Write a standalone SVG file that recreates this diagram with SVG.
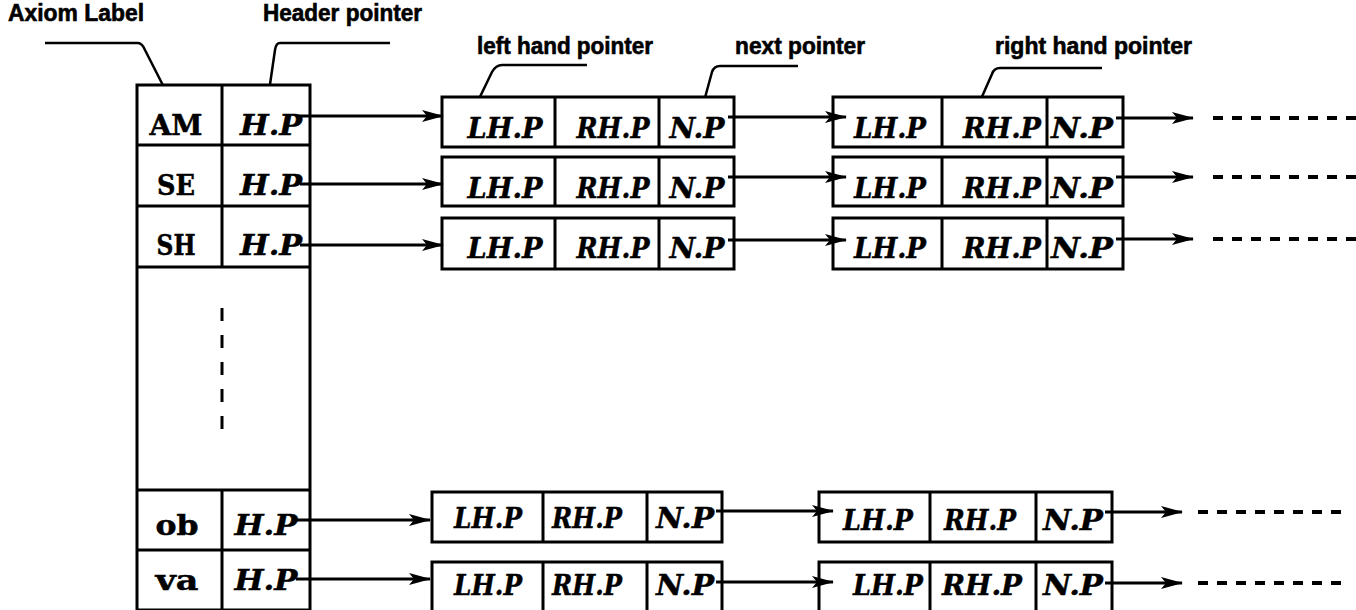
<svg xmlns="http://www.w3.org/2000/svg" width="1356" height="610" viewBox="0 0 1356 610">
<defs>
<style>
.bx{fill:#fff;stroke:#000;stroke-width:3}
.ln{fill:none;stroke:#000;stroke-width:3}
.ld{fill:none;stroke:#000;stroke-width:2.5}
.cn{fill:none;stroke:#000;stroke-width:3}
.ds{fill:none;stroke:#000;stroke-width:4;stroke-dasharray:10 9}
.lab{font-family:"Liberation Sans",Arial,sans-serif;font-weight:bold;font-size:23px;fill:#000;stroke:#000;stroke-width:0.6}
.key{font-family:"DejaVu Serif","Liberation Serif",serif;font-weight:bold;font-size:28px;fill:#000;text-anchor:middle;stroke:#000;stroke-width:0.5}
.ptr{font-family:"DejaVu Serif","Liberation Serif",serif;font-weight:bold;font-style:italic;font-size:27px;fill:#000;text-anchor:middle;stroke:#000;stroke-width:0.4}
</style>
<marker id="ah" markerUnits="userSpaceOnUse" markerWidth="22" markerHeight="14" refX="21" refY="7" orient="auto">
<path d="M0,1 L22,7 L0,13 L5,7 Z" fill="#000"/>
</marker>
</defs>
<rect width="1356" height="610" fill="#fff"/>

<g id="labels">
<text class="lab" x="8" y="21" textLength="136" lengthAdjust="spacingAndGlyphs">Axiom Label</text>
<text class="lab" x="263" y="21" textLength="159" lengthAdjust="spacingAndGlyphs">Header pointer</text>
<text class="lab" x="477" y="54" textLength="176" lengthAdjust="spacingAndGlyphs">left hand pointer</text>
<text class="lab" x="735" y="54" textLength="130" lengthAdjust="spacingAndGlyphs">next pointer</text>
<text class="lab" x="995" y="54" textLength="197" lengthAdjust="spacingAndGlyphs">right hand pointer</text>
<path class="ld" d="M45,43 L138,43 Q142,43 145,50 L172,103"/>
<path class="ld" d="M390,43 L280,43 Q276,43 275,50 L267,105"/>
<path class="ld" d="M587,65 L502,65 Q496,65 492,72 L477,103"/>
<path class="ld" d="M798,66 L720,66 Q714,66 712,72 L703,105"/>
<path class="ld" d="M1102,68 L1000,68 Q994,68 992,74 L977,108"/>
</g>

<g id="table">
<rect class="bx" x="137" y="85" width="173" height="525"/>
<path class="ln" d="M222,85 V267 M222,490 V610 M137,145 H310 M137,206 H310 M137,267 H310 M137,490 H310 M137,550 H310"/>
<path class="ln" d="M222,308 V430" stroke-dasharray="13 14"/>
<text class="key" x="176" y="135" textLength="53" lengthAdjust="spacingAndGlyphs">AM</text>
<text class="key" x="176" y="195" textLength="38" lengthAdjust="spacingAndGlyphs">SE</text>
<text class="key" x="176" y="255" textLength="39" lengthAdjust="spacingAndGlyphs">SH</text>
<text class="key" x="177" y="535" textLength="43" lengthAdjust="spacingAndGlyphs">ob</text>
<text class="key" x="177" y="590" textLength="43" lengthAdjust="spacingAndGlyphs">va</text>
<text class="ptr" x="271" y="135" textLength="62" lengthAdjust="spacingAndGlyphs">H.P</text>
<text class="ptr" x="271" y="195" textLength="62" lengthAdjust="spacingAndGlyphs">H.P</text>
<text class="ptr" x="271" y="255" textLength="62" lengthAdjust="spacingAndGlyphs">H.P</text>
<text class="ptr" x="266" y="535" textLength="63" lengthAdjust="spacingAndGlyphs">H.P</text>
<text class="ptr" x="266" y="590" textLength="63" lengthAdjust="spacingAndGlyphs">H.P</text>
</g>

<g id="node-r1a">
<rect class="bx" x="442" y="97" width="292" height="50"/>
<path class="ln" d="M555,97 V147 M659,97 V147"/>
<text class="ptr" x="505" y="138" textLength="75" lengthAdjust="spacingAndGlyphs">LH.P</text>
<text class="ptr" x="613" y="138" textLength="73" lengthAdjust="spacingAndGlyphs">RH.P</text>
<text class="ptr" x="697" y="138" textLength="55" lengthAdjust="spacingAndGlyphs">N.P</text>
</g>
<g id="node-r2a">
<rect class="bx" x="442" y="157" width="292" height="49"/>
<path class="ln" d="M555,157 V206 M659,157 V206"/>
<text class="ptr" x="505" y="198" textLength="75" lengthAdjust="spacingAndGlyphs">LH.P</text>
<text class="ptr" x="613" y="198" textLength="73" lengthAdjust="spacingAndGlyphs">RH.P</text>
<text class="ptr" x="697" y="198" textLength="55" lengthAdjust="spacingAndGlyphs">N.P</text>
</g>
<g id="node-r3a">
<rect class="bx" x="442" y="218" width="292" height="51"/>
<path class="ln" d="M555,218 V269 M659,218 V269"/>
<text class="ptr" x="505" y="258" textLength="75" lengthAdjust="spacingAndGlyphs">LH.P</text>
<text class="ptr" x="613" y="258" textLength="73" lengthAdjust="spacingAndGlyphs">RH.P</text>
<text class="ptr" x="697" y="258" textLength="55" lengthAdjust="spacingAndGlyphs">N.P</text>
</g>

<g id="node-r1b">
<rect class="bx" x="833" y="97" width="290" height="50"/>
<path class="ln" d="M942,97 V147 M1047,97 V147"/>
<text class="ptr" x="890" y="138" textLength="72" lengthAdjust="spacingAndGlyphs">LH.P</text>
<text class="ptr" x="1002" y="138" textLength="78" lengthAdjust="spacingAndGlyphs">RH.P</text>
<text class="ptr" x="1082" y="138" textLength="62" lengthAdjust="spacingAndGlyphs">N.P</text>
</g>
<g id="node-r2b">
<rect class="bx" x="833" y="157" width="290" height="49"/>
<path class="ln" d="M942,157 V206 M1047,157 V206"/>
<text class="ptr" x="890" y="198" textLength="72" lengthAdjust="spacingAndGlyphs">LH.P</text>
<text class="ptr" x="1002" y="198" textLength="78" lengthAdjust="spacingAndGlyphs">RH.P</text>
<text class="ptr" x="1082" y="198" textLength="62" lengthAdjust="spacingAndGlyphs">N.P</text>
</g>
<g id="node-r3b">
<rect class="bx" x="833" y="218" width="290" height="51"/>
<path class="ln" d="M942,218 V269 M1047,218 V269"/>
<text class="ptr" x="890" y="258" textLength="72" lengthAdjust="spacingAndGlyphs">LH.P</text>
<text class="ptr" x="1002" y="258" textLength="78" lengthAdjust="spacingAndGlyphs">RH.P</text>
<text class="ptr" x="1082" y="258" textLength="62" lengthAdjust="spacingAndGlyphs">N.P</text>
</g>

<g id="node-r4a">
<rect class="bx" x="432" y="492" width="290" height="50"/>
<path class="ln" d="M543,492 V542 M647,492 V542"/>
<text class="ptr" x="488" y="528" textLength="68" lengthAdjust="spacingAndGlyphs">LH.P</text>
<text class="ptr" x="587" y="528" textLength="70" lengthAdjust="spacingAndGlyphs">RH.P</text>
<text class="ptr" x="685" y="528" textLength="58" lengthAdjust="spacingAndGlyphs">N.P</text>
</g>
<g id="node-r5a">
<rect class="bx" x="432" y="562" width="290" height="52"/>
<path class="ln" d="M543,562 V614 M647,562 V614"/>
<text class="ptr" x="488" y="595" textLength="68" lengthAdjust="spacingAndGlyphs">LH.P</text>
<text class="ptr" x="587" y="595" textLength="70" lengthAdjust="spacingAndGlyphs">RH.P</text>
<text class="ptr" x="685" y="595" textLength="58" lengthAdjust="spacingAndGlyphs">N.P</text>
</g>
<g id="node-r4b">
<rect class="bx" x="819" y="492" width="293" height="50"/>
<path class="ln" d="M930,492 V542 M1036,492 V542"/>
<text class="ptr" x="878" y="530" textLength="70" lengthAdjust="spacingAndGlyphs">LH.P</text>
<text class="ptr" x="980" y="530" textLength="72" lengthAdjust="spacingAndGlyphs">RH.P</text>
<text class="ptr" x="1073" y="530" textLength="60" lengthAdjust="spacingAndGlyphs">N.P</text>
</g>
<g id="node-r5b">
<rect class="bx" x="819" y="562" width="293" height="52"/>
<path class="ln" d="M930,562 V614 M1036,562 V614"/>
<text class="ptr" x="888" y="595" textLength="70" lengthAdjust="spacingAndGlyphs">LH.P</text>
<text class="ptr" x="982" y="595" textLength="80" lengthAdjust="spacingAndGlyphs">RH.P</text>
<text class="ptr" x="1073" y="595" textLength="60" lengthAdjust="spacingAndGlyphs">N.P</text>
</g>

<g id="connectors">
<path class="cn" marker-end="url(#ah)" d="M300,116 H443"/>
<path class="cn" marker-end="url(#ah)" d="M300,184 H443"/>
<path class="cn" marker-end="url(#ah)" d="M300,245 H443"/>
<path class="cn" marker-end="url(#ah)" d="M296,520 H430"/>
<path class="cn" marker-end="url(#ah)" d="M296,579 H430"/>
<path class="cn" marker-end="url(#ah)" d="M728,117 H846"/>
<path class="cn" marker-end="url(#ah)" d="M728,177 H846"/>
<path class="cn" marker-end="url(#ah)" d="M728,240 H846"/>
<path class="cn" marker-end="url(#ah)" d="M716,511 H833"/>
<path class="cn" marker-end="url(#ah)" d="M716,582 H833"/>
<path class="cn" marker-end="url(#ah)" d="M1116,118 H1193"/>
<path class="cn" marker-end="url(#ah)" d="M1116,177 H1193"/>
<path class="cn" marker-end="url(#ah)" d="M1116,239 H1193"/>
<path class="cn" marker-end="url(#ah)" d="M1105,512 H1182"/>
<path class="cn" marker-end="url(#ah)" d="M1105,583 H1182"/>
<path class="ds" d="M1213,118 H1356 M1213,177 H1356 M1213,239 H1356"/>
<path class="ds" d="M1198,512 H1345 M1198,583 H1345"/>
</g>
</svg>
